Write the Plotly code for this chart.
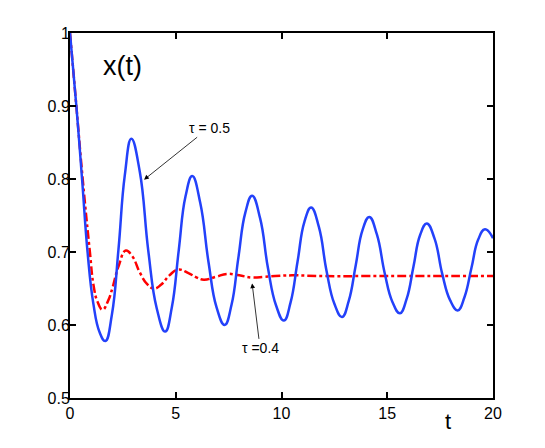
import plotly.graph_objects as go

# tau = 0.5 (blue, solid)
t_blue = [0, 0.3, 0.57, 0.83, 1.1, 1.4, 1.67,
          1.98, 2.29, 2.59, 2.90,
          3.30, 3.70, 4.10, 4.50,
          4.82, 5.14, 5.46, 5.78,
          6.16, 6.55, 6.93, 7.31,
          7.64, 7.96, 8.29, 8.61,
          8.99, 9.36, 9.74, 10.11,
          10.43, 10.76, 11.08, 11.40,
          11.77, 12.13, 12.50, 12.86,
          13.18, 13.51, 13.83, 14.15,
          14.51, 14.88, 15.24, 15.60,
          15.92, 16.24, 16.55, 16.87,
          17.24, 17.60, 17.97, 18.33,
          18.65, 18.98, 19.30, 19.62,
          20.0]
x_blue = [1.0, 0.90, 0.80, 0.70, 0.63, 0.59, 0.578,
          0.614, 0.703, 0.805, 0.855,
          0.810, 0.702, 0.623, 0.591,
          0.625, 0.702, 0.776, 0.804,
          0.767, 0.686, 0.624, 0.600,
          0.628, 0.692, 0.754, 0.777,
          0.746, 0.678, 0.627, 0.606,
          0.631, 0.687, 0.741, 0.761,
          0.734, 0.674, 0.629, 0.611,
          0.633, 0.682, 0.730, 0.748,
          0.724, 0.671, 0.632, 0.616,
          0.636, 0.680, 0.723, 0.739,
          0.718, 0.670, 0.634, 0.620,
          0.638, 0.678, 0.717, 0.731,
          0.719]

# tau = 0.4 (red, dash-dot)
t_red = [0, 0.3, 0.6, 0.94, 1.11, 1.3, 1.54, 1.8, 2.0, 2.29, 2.64, 2.95,
         3.3, 3.65, 3.98, 4.3, 4.7, 5.12, 5.6, 6.0, 6.33, 6.9, 7.43,
         8.0, 8.61, 9.2, 9.7, 10.5, 12.0, 14.0, 16.0, 18.0, 20.0]
x_red = [1.0, 0.90, 0.80, 0.70, 0.655, 0.632, 0.621, 0.633, 0.650, 0.680, 0.702, 0.694,
         0.672, 0.656, 0.650, 0.655, 0.668, 0.676, 0.671, 0.665, 0.662, 0.666, 0.670,
         0.668, 0.665, 0.666, 0.667, 0.668, 0.667, 0.667, 0.667, 0.667, 0.667]

x_ticks = [0, 5, 10, 15, 20]
y_ticks = [0.5, 0.6, 0.7, 0.8, 0.9, 1.0]
y_tick_text = ["0.5", "0.6", "0.7", "0.8", "0.9", "1"]

fig = go.Figure()
fig.add_trace(go.Scatter(x=t_red, y=x_red, mode="lines",
                         line=dict(color="rgb(255,0,0)", width=2.5, dash="dashdot", shape="spline", smoothing=1.3),
                         showlegend=False))
fig.add_trace(go.Scatter(x=t_blue, y=x_blue, mode="lines",
                         line=dict(color="rgb(35,65,250)", width=2.5, shape="spline", smoothing=1.3),
                         showlegend=False))

font = "Liberation Sans, Arial, Helvetica, sans-serif"
axis_common = dict(showline=True, linecolor="black", linewidth=2, mirror="ticks",
                   ticks="inside", ticklen=6, tickwidth=1.5, tickcolor="black",
                   showgrid=False, zeroline=False,
                   tickfont=dict(family=font, size=16, color="black"))
fig.update_xaxes(range=[0, 20], tickvals=x_ticks, ticklabelstandoff=0, **axis_common)
fig.update_yaxes(range=[0.5, 1.0], tickvals=y_ticks, ticktext=y_tick_text, ticklabelstandoff=-5, **axis_common)

fig.add_annotation(x=2.5, y=0.955, text="x(t)", showarrow=False,
                   font=dict(family=font, size=27, color="black"))
fig.add_annotation(x=0.905, xref="paper", y=-0.025, yref="paper", yanchor="top",
                   text="t", showarrow=False, font=dict(family=font, size=22, color="black"))
fig.add_annotation(x=3.5, y=0.799, text="τ = 0.5", showarrow=True,
                   ax=65, ay=-52, arrowhead=2, arrowsize=1.2, arrowwidth=0.8, arrowcolor="black",
                   font=dict(family=font, size=14, color="black"))
fig.add_annotation(x=8.61, y=0.657, text="τ =0.4", showarrow=True,
                   ax=8, ay=65, arrowhead=2, arrowsize=1.2, arrowwidth=0.8, arrowcolor="black",
                   font=dict(family=font, size=14, color="black"))

fig.update_layout(width=537, height=440, plot_bgcolor="white", paper_bgcolor="white",
                  margin=dict(l=62, r=52, t=25, b=50))
fig.write_html("out.html")
